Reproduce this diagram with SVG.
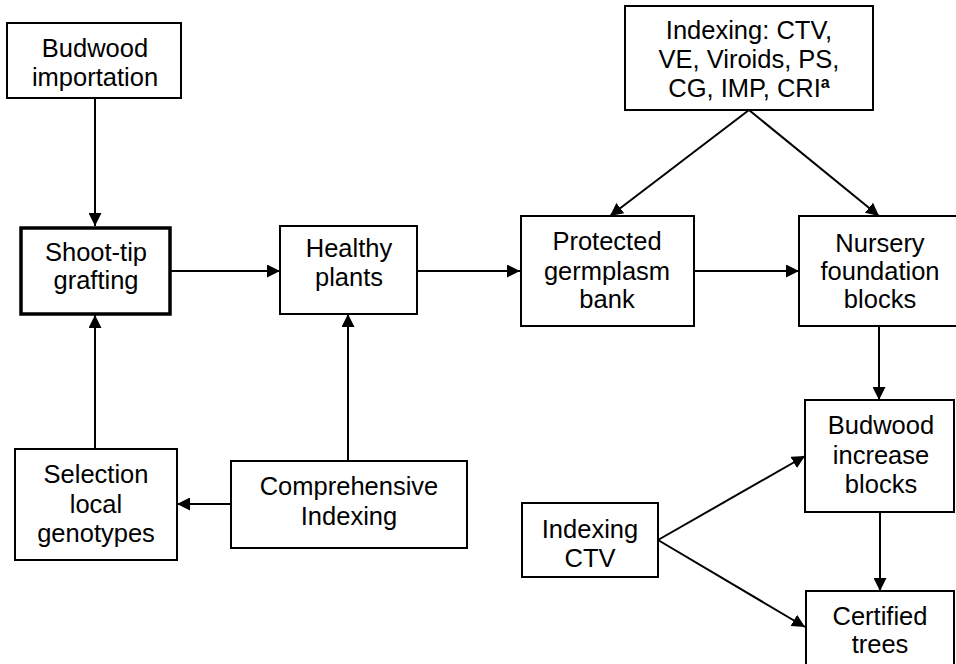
<svg xmlns="http://www.w3.org/2000/svg" width="956" height="664" viewBox="0 0 956 664">
<style>
.box{fill:#fff;stroke:#000;stroke-width:2}
.thick{stroke-width:3.5}
text{font-family:"Liberation Sans",Arial,sans-serif;font-size:25.5px;fill:#000;text-anchor:middle}
.c{fill:none;stroke:#000;stroke-width:2}
</style>
<defs>
<marker id="ah" markerUnits="userSpaceOnUse" markerWidth="14" markerHeight="13" refX="13" refY="6.5" orient="auto">
<path d="M0,0 L13,6.5 L0,13 z" fill="#000"/>
</marker>
</defs>
<rect width="956" height="664" fill="#fff"/>
<g id="connectors">
<line class="c" x1="95" y1="98" x2="95" y2="226" marker-end="url(#ah)"/>
<line class="c" x1="170" y1="271" x2="280" y2="271" marker-end="url(#ah)"/>
<line class="c" x1="417" y1="271" x2="520" y2="271" marker-end="url(#ah)"/>
<line class="c" x1="694" y1="271" x2="799" y2="271" marker-end="url(#ah)"/>
<line class="c" x1="749" y1="110" x2="610" y2="216" marker-end="url(#ah)"/>
<line class="c" x1="749" y1="110" x2="879" y2="216" marker-end="url(#ah)"/>
<line class="c" x1="879" y1="326" x2="879" y2="400" marker-end="url(#ah)"/>
<line class="c" x1="880" y1="512" x2="880" y2="591" marker-end="url(#ah)"/>
<line class="c" x1="658" y1="540" x2="805" y2="456" marker-end="url(#ah)"/>
<line class="c" x1="658" y1="540" x2="805" y2="627" marker-end="url(#ah)"/>
<line class="c" x1="95" y1="449" x2="95" y2="315" marker-end="url(#ah)"/>
<line class="c" x1="348" y1="461" x2="348" y2="314" marker-end="url(#ah)"/>
<line class="c" x1="231" y1="504" x2="177" y2="504" marker-end="url(#ah)"/>
</g>
<g id="budwood-importation">
<rect class="box" x="7" y="23" width="174" height="75"/>
<text x="95" y="57">Budwood</text>
<text x="95" y="86">importation</text>
</g>
<g id="shoot-tip-grafting">
<rect class="box thick" x="21" y="228" width="149" height="86"/>
<text x="96" y="261">Shoot-tip</text>
<text x="96" y="289">grafting</text>
</g>
<g id="healthy-plants">
<rect class="box" x="280" y="226" width="137" height="88"/>
<text x="349" y="257">Healthy</text>
<text x="349" y="286">plants</text>
</g>
<g id="protected-germplasm-bank">
<rect class="box" x="521" y="216" width="173" height="110"/>
<text x="607" y="250">Protected</text>
<text x="607" y="280">germplasm</text>
<text x="607" y="308">bank</text>
</g>
<g id="indexing-top">
<rect class="box" x="625" y="6" width="248" height="104"/>
<text x="749" y="39">Indexing: CTV,</text>
<text x="749" y="68">VE, Viroids, PS,</text>
<text x="749" y="97">CG, IMP, CRI<tspan font-size="16" font-weight="bold" dy="-9">a</tspan></text>
</g>
<g id="nursery-foundation-blocks">
<rect class="box" x="799" y="216" width="170" height="110"/>
<text x="880" y="252">Nursery</text>
<text x="880" y="280">foundation</text>
<text x="880" y="308">blocks</text>
</g>
<g id="budwood-increase-blocks">
<rect class="box" x="805" y="400" width="149" height="112"/>
<text x="881" y="434">Budwood</text>
<text x="881" y="464">increase</text>
<text x="881" y="493">blocks</text>
</g>
<g id="certified-trees">
<rect class="box" x="806" y="591" width="148" height="80"/>
<text x="880" y="625">Certified</text>
<text x="880" y="653">trees</text>
</g>
<g id="indexing-ctv">
<rect class="box" x="522" y="503" width="136" height="74"/>
<text x="590" y="538">Indexing</text>
<text x="590" y="567">CTV</text>
</g>
<g id="comprehensive-indexing">
<rect class="box" x="231" y="461" width="236" height="87"/>
<text x="349" y="495">Comprehensive</text>
<text x="349" y="525">Indexing</text>
</g>
<g id="selection-local-genotypes">
<rect class="box" x="15" y="449" width="162" height="111"/>
<text x="96" y="483">Selection</text>
<text x="96" y="513">local</text>
<text x="96" y="542">genotypes</text>
</g>
</svg>
